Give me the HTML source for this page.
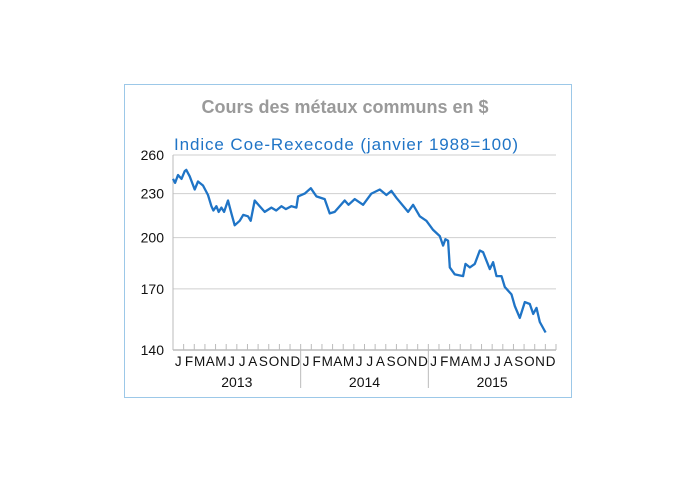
<!DOCTYPE html>
<html><head><meta charset="utf-8"><style>
body{margin:0;background:#fff;width:695px;height:483px;overflow:hidden}
svg{display:block;font-family:"Liberation Sans",sans-serif}
</style></head><body>
<svg id="chart" width="695" height="483" viewBox="0 0 695 483">
<rect x="124.5" y="84.5" width="447" height="313" fill="#fff" stroke="#9cc8e8" stroke-width="1"/>
<text x="345" y="113" text-anchor="middle" font-size="18" font-weight="bold" fill="#9a9a9a">Cours des métaux communs en $</text>
<text x="174" y="150" font-size="17" fill="#1f74c6" textLength="344">Indice Coe-Rexecode (janvier 1988=100)</text>
<g id="grid"></g><g id="axes"></g><g id="series"></g>
</svg>
<script>
const yTicks=[140,170,200,230,260];
const monthLabels=["J","F","M","A","M","J","J","A","S","O","N","D"];
const years=["2013","2014","2015"];
const months=[0,0.2,0.47,0.8,1.1,1.25,1.57,2.04,2.35,2.82,3.29,3.61,3.8,4.08,4.3,4.55,4.8,5.17,5.49,5.8,6.27,6.6,7.05,7.3,7.68,8.15,8.62,9.25,9.7,10.19,10.6,11.13,11.6,11.76,12.38,12.95,13.48,14.26,14.73,15.2,16.14,16.5,17.08,17.87,18.65,19.44,20.06,20.53,21.0,22.1,22.57,23.2,23.82,24.45,25.08,25.39,25.6,25.86,26.02,26.49,27.27,27.49,27.9,28.37,28.84,29.15,29.78,30.09,30.41,30.88,31.19,31.82,32.13,32.6,33.07,33.54,33.86,34.17,34.48,35.02];
const values=[241,238,244,241,247,248,243,233,239,236,229,221,218,221,217,220,217,225,216,208,211,215,214,211,225,221,217,220,218,221,219,221,220,228,230,234,228,226,216,217,225,222,226,222,230,233,229,232,227,217,222,214,211,205,201,195,199,198,182,178,177,184,182,184,192,191,181,185,177,177,171,167,161,155,163,162,157,160,153,148];
const x0=173,x1=556,yBase=350,k=315;
const xs=m=>x0+(x1-x0)*m/36;
const ys=v=>yBase-k*Math.log(v/140);
const NS="http://www.w3.org/2000/svg";
const grid=document.getElementById('grid'),axes=document.getElementById('axes'),series=document.getElementById('series');
function mk(tag,attrs,parent){const e=document.createElementNS(NS,tag);for(const a in attrs)e.setAttribute(a,attrs[a]);parent.appendChild(e);return e;}
yTicks.forEach(t=>{
  if(t>140){const l=mk('line',{x1:x0,x2:x1,y1:ys(t),y2:ys(t),stroke:'#cfcfcf','stroke-width':1},grid);
  
  }
  const tx=mk('text',{x:164,y:ys(t)+5,'text-anchor':'end','font-size':14,fill:'#111'},axes);
  tx.textContent=t;
  
  
});
const ya=mk('line',{x1:x0,x2:x0,y1:155,y2:yBase,stroke:'#bbb','stroke-width':1},axes);


const xa=mk('line',{x1:x0,x2:x1,y1:yBase,y2:yBase,stroke:'#bbb','stroke-width':1.5},axes);


for(let i=0;i<=36;i++){
  const tk=mk('line',{x1:xs(i),x2:xs(i),y1:yBase-6,y2:yBase,stroke:'#bbb','stroke-width':1},axes);
  
  
  if(i<36){const ml=mk('text',{x:xs(i)+5.3,y:366,'text-anchor':'middle','font-size':13.5,fill:'#111'},axes);
  ml.textContent=monthLabels[i%12];
  
  }
}
years.forEach((y,j)=>{
  if(j>0){const s=mk('line',{x1:xs(j*12),x2:xs(j*12),y1:yBase,y2:388,stroke:'#bbb','stroke-width':1},axes);
  
  }
  const yl=mk('text',{x:xs(j*12+6),y:387,'text-anchor':'middle','font-size':14,fill:'#111'},axes);
  yl.textContent=y;
  
  
});
const n=Math.min(months.length,values.length);
const pts=values.slice(0,n).map((v,i)=>xs(months[i]).toFixed(1)+','+ys(v).toFixed(1)).join(' ');
const pl=mk('polyline',{points:pts,fill:'none',stroke:'#1f74c6','stroke-width':2.3,'stroke-linejoin':'round'},series);


</script>
</body></html>
